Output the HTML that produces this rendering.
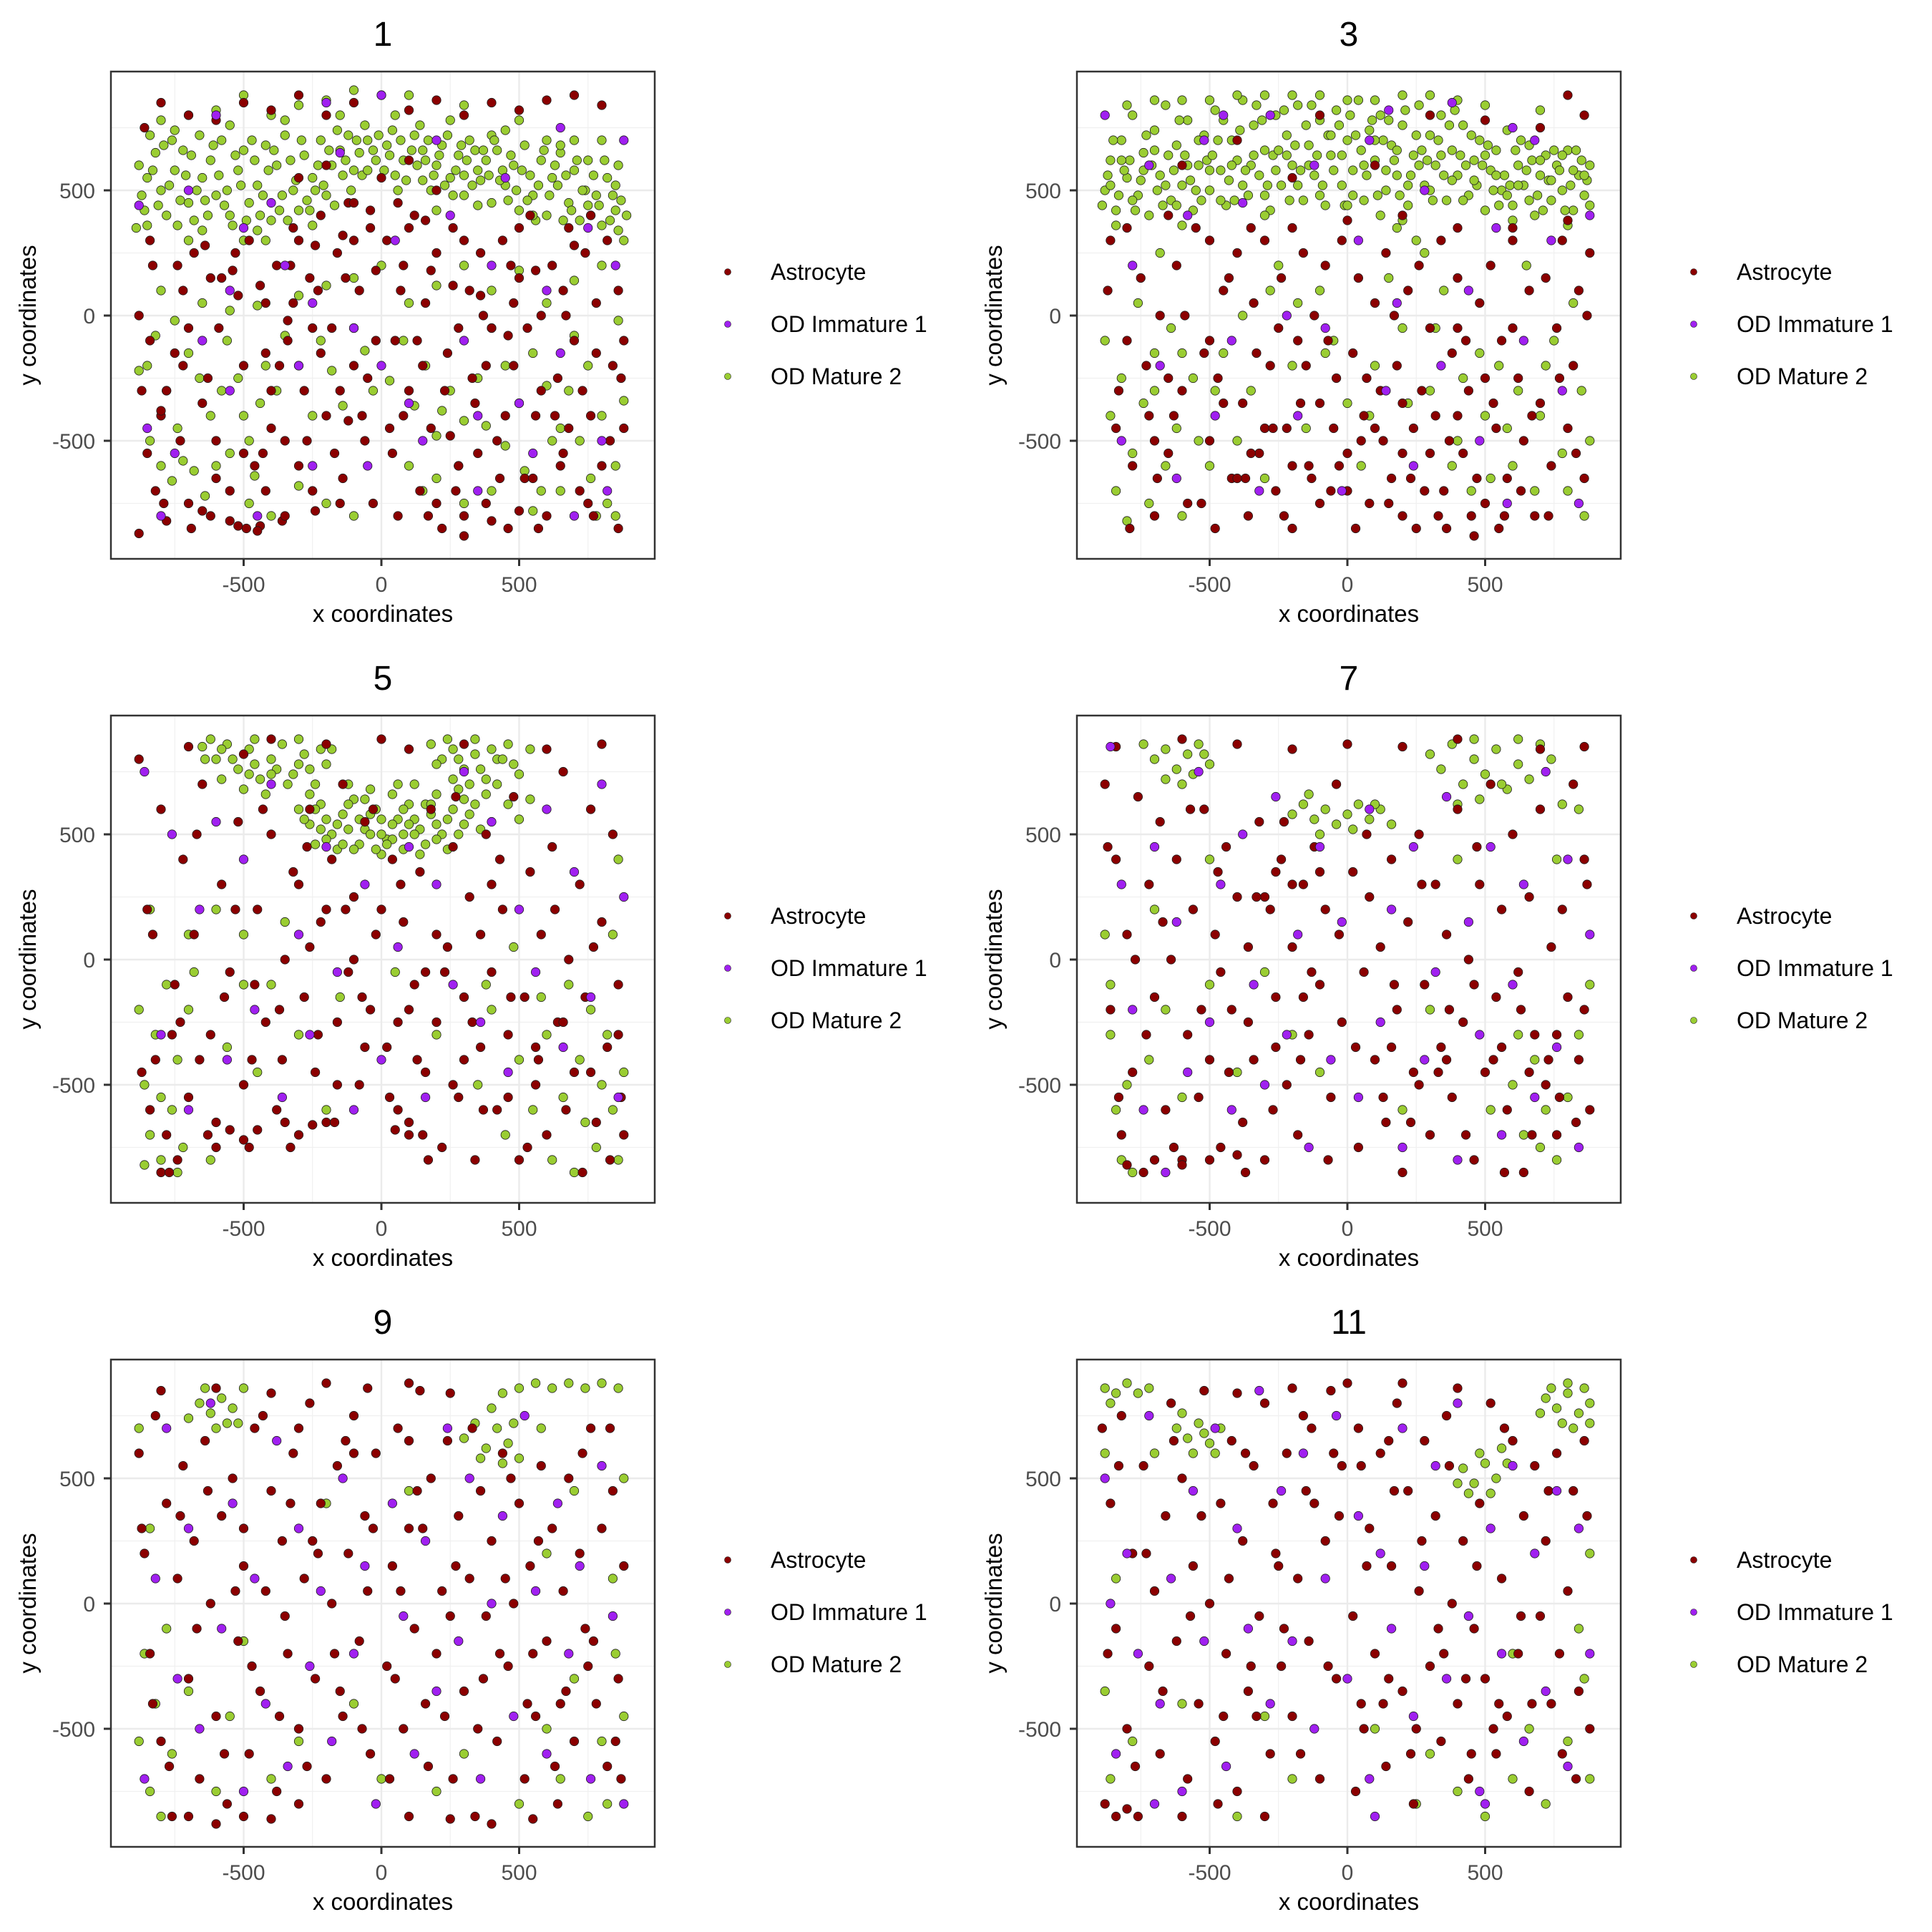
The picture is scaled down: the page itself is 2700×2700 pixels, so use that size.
<!DOCTYPE html>
<html><head><meta charset="utf-8"><style>
html,body{margin:0;padding:0;background:#fff}
svg{display:block}
text{font-family:"Liberation Sans",Arial,sans-serif}
</style></head><body>
<svg id="chart" width="2700" height="2700" viewBox="0 0 2700 2700" xmlns="http://www.w3.org/2000/svg"></svg>
<script>
// Facet titles
const facetTitles = ["1","3","5","7","9","11"];
const cellTypes = ["Astrocyte","OD Immature 1","OD Mature 2"];
const xTicks = [-500,0,500];
const yTicks = [-500,0,500];
const xTickLabels = ["-500","0","500"];
const yTickLabels = ["-500","0","500"];
// points per facet, "x,y" in units of 10 coordinate units
const greenPts = [
"-88,60 -85,55 -82,65 -80,50 -78,40 -75,58 -72,66 -70,45 -68,38 -65,55 -62,62 -60,48 -58,70 -55,40 -52,58 -50,66 -48,45 -45,52 -42,68 -40,38 -38,60 -35,72 -32,50 -30,42 -28,64 -25,55 -22,70 -20,48 -18,60 -15,66 -12,72 -10,58 -8,65 -5,70 -2,62 2,68 5,56 8,62 12,72 15,66 18,50 20,60 22,68 25,55 28,64 30,48 32,70 35,58 38,62 40,45 42,66 45,52 48,60 50,42 52,68 55,48 58,62 60,40 62,55 65,65 68,45 70,58 72,38 75,62 78,48 80,36 82,55 85,42 88,30 86,60 -86,42 -84,72 -76,70 -66,72 -56,50 -46,62 -36,48 -26,42 -16,74 -6,76 4,74 14,76 24,72 34,66 44,58 54,56 64,52 74,50 84,48 -89,35 -74,36 -64,46 -54,36 -44,40 -34,38 -24,50 -14,56 6,50 16,62 26,48 36,54 46,46 56,38 66,38 76,40 86,34 -80,78 -60,82 -40,80 -30,84 -20,86 -70,30 -50,30 -42,30 20,42 30,56 40,72 50,78 60,70 70,70 80,70 -88,-22 -84,-50 -80,-60 -76,-66 -72,-58 -68,-62 -64,-72 -60,-60 -58,-30 -55,-55 -50,-40 -46,-64 -42,-20 -38,-30 -35,-8 -30,-20 -25,-40 -22,-10 -18,-22 -14,-36 -10,-5 -6,-14 -3,-30 3,-26 8,-10 12,-36 16,-20 20,-48 25,-30 30,-42 35,-25 40,-5 45,-20 50,-35 55,-15 60,-28 65,-45 70,-8 75,-20 80,-40 85,-60 88,-34 82,-75 76,-65 72,-50 68,-30 62,-50 58,-70 52,-62 45,-52 38,-44 28,-60 22,-38 -85,-20 -82,-8 -78,-30 -74,-45 -70,-15 -66,-25 -62,-40 -56,-10 -52,-25 -48,-50 -44,-35 -80,10 -75,-2 -65,5 -55,2 -45,4 -30,8 -20,12 -10,15 0,20 10,5 20,12 30,20 40,10 50,18 60,5 70,14 80,20 86,-2 -48,-75 -40,-80 -30,-68 -20,-75 -10,-80 10,-60 15,-70 20,-65 30,-75 40,-70 55,-78 65,-70 78,-80 85,-80 -87,48 -83,58 -81,44 -79,68 -77,52 -73,46 -71,56 -69,64 -67,50 -63,40 -61,68 -59,56 -57,44 -53,64 -51,52 -49,38 -47,70 -43,48 -41,58 -39,66 -37,42 -33,62 -31,54 -29,70 -27,46 -23,60 -21,52 -19,66 -17,44 -13,62 -11,50 -9,70 -7,56 -3,66 -1,72 1,58 3,64 7,70 9,54 11,66 13,60 17,70 19,56 21,64 23,52 27,58 29,68 31,62 33,52 37,66 39,56 41,70 43,54 47,64 49,50 51,58 53,46 57,52 59,66 61,48 63,60 67,56 69,42 71,62 73,50 77,56 79,44 81,62 83,38 87,46 89,40 -85,36 -65,34 -45,34 -25,36 -5,58 15,54 35,44 55,40 75,44 85,52 -75,74 -55,76 -35,78 -15,80 5,80 25,78 45,74 65,68 -70,80 -50,88 -10,90 10,88 30,84",
"-88,50 -86,62 -84,42 -82,70 -80,55 -78,80 -76,48 -74,65 -72,40 -70,74 -68,56 -66,84 -64,46 -62,68 -60,52 -58,78 -56,42 -54,60 -52,72 -50,50 -48,82 -46,58 -44,44 -42,70 -40,62 -38,86 -36,48 -34,76 -32,56 -30,66 -28,42 -26,80 -24,52 -22,72 -20,60 -18,84 -16,46 -14,68 -12,56 -10,78 -8,44 -6,64 -4,82 -2,52 0,70 2,58 4,86 6,46 8,74 10,62 12,80 14,50 16,68 18,56 20,76 22,44 24,64 26,84 28,52 30,72 32,60 34,80 36,46 38,66 40,56 42,76 44,48 46,62 48,70 50,42 52,58 54,66 56,50 58,74 60,44 62,60 64,52 66,68 68,40 70,56 72,64 74,46 76,60 78,50 80,66 82,42 84,56 86,48 88,60 -87,56 -83,48 -79,62 -75,54 -71,60 -67,44 -63,58 -59,64 -55,50 -51,62 -47,70 -43,54 -39,74 -35,60 -31,78 -27,64 -23,82 -19,68 -15,76 -11,64 -7,72 -3,76 1,80 5,66 9,78 13,70 17,62 21,82 25,72 29,62 33,70 37,76 41,64 45,72 49,60 53,50 57,56 61,66 65,58 69,48 73,54 77,58 81,52 85,62 -60,86 -40,88 -20,88 0,86 20,88 40,86 -88,-10 -86,-40 -84,-70 -82,-25 -80,-82 -78,-55 -76,5 -74,-35 -72,-75 -70,-15 -68,25 -66,-60 -64,-5 -62,-45 -60,-80 -56,-25 -50,-60 -45,-15 -40,-50 -35,-30 -30,-65 -25,20 -20,-20 -15,-45 -10,10 -5,-10 0,-35 5,-60 10,-20 15,15 20,-5 25,30 30,-30 35,10 40,-50 45,-70 50,-40 55,-20 60,-60 65,20 70,-40 75,-10 80,-70 85,-30 88,-50 -70,-30 -60,-15 -54,-50 -48,-30 -38,0 -28,10 -18,5 -8,-15 12,40 22,-35 32,-5 42,-25 52,-65 62,-30 72,-20 82,5 86,-80 78,-55 68,-70 58,-45 48,-15 38,-60 28,25 18,35 8,-40 -89,44 -85,70 -81,58 -77,42 -73,72 -69,50 -65,64 -61,78 -57,54 -53,46 -49,64 -45,78 -41,46 -37,58 -33,84 -29,52 -25,66 -21,46 -17,58 -13,84 -9,52 -5,58 -1,44 3,72 7,56 11,48 15,78 19,48 23,56 27,66 31,46 35,56 39,82 43,60 47,52 51,68 55,44 59,52 63,70 67,62 71,42 75,66 79,42 83,66 87,54 -86,52 -82,62 -78,46 -74,58 -70,66 -66,52 -62,44 -58,60 -54,70 -50,58 -46,46 -42,60 -38,52 -34,64 -30,48 -26,58 -22,64 -18,52 -14,60 -10,48 -6,72 -2,64 2,48 6,60 10,70 14,58 18,66 22,52 26,60 30,50 34,64 38,54 42,46 46,54 50,64 54,56 58,48 62,52 66,46 70,62 74,54 78,64 82,58 86,56 88,44 -80,84 -70,86 -50,86 -30,88 -10,88 10,86 30,88 50,84 70,82 -84,36 -60,36 -30,40 0,44 20,38 60,38 80,36",
"-65,85 -60,80 -56,86 -52,76 -48,84 -44,72 -40,80 -36,86 -32,74 -28,82 -24,70 -20,78 -58,72 -50,68 -42,66 -34,70 -26,76 -18,84 -62,88 -46,88 -30,88 -30,60 -26,54 -22,62 -18,50 -14,58 -10,64 -6,52 -2,60 2,48 6,56 10,62 14,52 18,58 22,50 26,60 30,54 34,62 -24,46 -16,44 -8,46 0,42 8,44 16,46 24,44 -12,70 -4,68 4,66 12,70 20,66 28,68 -20,56 -12,52 -4,58 4,54 12,56 20,54 8,50 0,50 18,86 22,80 26,84 30,76 34,82 38,72 42,80 46,86 50,74 54,84 26,72 34,88 42,70 46,62 50,56 54,64 -88,-20 -86,-50 -84,-70 -82,-30 -80,-80 -78,-10 -76,-60 -74,-40 -72,-75 -70,-20 -68,-5 -86,-82 -80,-55 -74,-85 -62,-80 -56,-35 -50,-10 -45,-45 -30,-30 -20,-60 -15,-15 5,-5 20,-30 35,-50 40,-20 45,-70 50,-40 55,-60 60,-30 62,-80 66,-55 70,-85 72,-40 74,-65 76,-20 78,-75 80,-50 82,-30 84,-60 86,-80 88,-45 68,-10 58,-15 48,5 38,-10 -60,20 -50,10 -40,-10 -35,15 -70,10 -84,20 86,40 84,10 -28,56 -24,60 -20,48 -16,54 -12,62 -8,56 -4,50 0,56 4,48 8,60 12,50 16,62 20,48 24,56 28,50 32,58 36,52 -10,44 2,46 14,42 -26,66 -6,64 6,70 18,62 30,64 -22,52 10,54 -64,80 -58,84 -54,80 -46,78 -38,76 -30,78 -22,84 -48,74 -40,74 20,78 24,88 28,80 36,76 40,84 44,80 48,78 32,70 38,66 -14,46 -2,44",
"-74,86 -70,80 -66,84 -62,76 -58,82 -54,86 -50,78 -66,72 -60,70 -56,74 -52,82 -20,58 -16,62 -12,56 -8,60 -4,54 0,58 4,62 8,56 12,60 16,54 -10,50 2,52 10,62 -14,66 30,82 34,76 38,86 42,70 46,80 50,74 54,84 58,68 62,78 66,72 70,86 74,80 40,62 48,64 56,70 62,88 46,88 78,62 -88,10 -86,-30 -84,-60 -82,-80 -86,-10 -80,-50 -78,-85 -72,-40 -66,-20 -60,-55 -50,-10 -40,-45 -30,-5 -20,-30 -10,-45 60,-50 64,-70 68,-40 72,-60 76,-80 80,-55 84,-30 88,-10 70,-75 62,-30 52,-60 76,40 84,60 30,-20 20,-60 40,40 -50,40 -70,20",
"-66,80 -62,76 -58,82 -54,78 -60,70 -56,72 -50,86 -64,86 -52,72 -70,74 30,66 34,72 38,62 42,70 46,64 50,58 40,78 44,84 50,86 56,88 62,86 68,88 74,86 80,88 86,86 48,72 36,58 44,56 58,70 -88,-55 -86,-20 -84,-75 -82,-40 -80,-85 -78,-10 -76,-60 -70,-35 -60,-75 -55,-45 -50,-15 -40,-70 60,-50 65,-70 70,-30 75,-85 80,-55 85,-20 88,-45 82,-80 50,-80 30,-60 20,-75 -30,-55 -10,-40 0,-70 88,50 84,10 -84,30 -88,70 -20,40 10,45 60,20 70,45",
"-88,86 -84,84 -80,88 -76,84 -72,86 -86,80 -62,70 -58,66 -54,72 -50,64 -56,60 -48,60 -60,76 -52,68 -46,70 72,82 76,78 80,84 84,76 88,80 86,86 78,72 82,70 88,72 74,86 80,88 70,76 42,54 46,48 50,56 54,50 44,44 52,44 58,56 48,60 56,62 40,48 -88,-35 -86,-70 -84,10 -78,-55 -60,-40 -40,-85 -20,-70 25,-80 30,-60 40,-75 50,-85 60,-70 66,-50 72,-80 80,-55 86,-30 88,-70 84,-10 88,20 -30,-45 10,-50 60,-20 -70,60 -88,60"
];
const redPts = [
"-88,-87 -85,-55 -82,-70 -80,-40 -78,-30 -75,-15 -72,10 -70,-5 -68,25 -65,-35 -62,-80 -60,-50 -58,15 -55,-70 -52,-84 -50,-20 -48,30 -46,-60 -44,-84 -42,5 -40,-45 -38,20 -36,-82 -34,-10 -32,35 -30,-60 -28,-30 -26,15 -24,-78 -22,40 -20,-40 -18,-5 -16,25 -14,-65 -12,45 -10,-20 -8,10 -6,-50 -4,35 -2,-10 2,30 4,-55 6,-80 8,20 10,-30 12,40 14,-70 16,5 18,-45 20,25 22,-85 24,-15 26,35 28,-60 30,-88 32,10 34,-35 36,25 38,-75 40,-5 42,-50 44,30 46,-85 48,-20 50,15 52,-65 54,40 56,-40 58,0 60,-80 62,20 64,-25 66,-55 68,35 70,-10 72,-70 74,25 76,-40 78,5 80,-60 82,30 84,-20 86,-85 88,-10 -86,75 -80,85 -70,80 -60,78 -50,85 -40,82 -30,88 -20,80 -10,85 0,88 10,82 20,86 30,80 40,85 50,82 60,86 70,88 80,84 -84,30 -74,20 -64,28 -54,18 -44,12 -34,-2 -24,28 -14,32 -4,42 6,45 16,38 26,12 36,8 46,-8 56,18 66,10 76,40 86,10 -40,-30 -35,-50 -25,-5 -15,-30 -5,-25 5,-10 15,-20 25,-48 35,-55 45,-40 55,-65 65,-60 75,-75 -65,-78 -55,-82 -45,-86 -35,-80 -25,-70 -15,-75 20,-75 30,-80 40,-82 50,-78 -30,55 -20,60 -10,45 0,55 10,62 20,50 -78,-82 -70,-75 -60,-65 -50,-55 -42,-70 -88,0 -84,-10 -80,-38 -72,-20 -62,15 -52,8 -42,-15 -32,5 -22,-15 -12,-42 -2,18 8,-40 18,18 28,-5 38,-20 48,5 58,-30 68,-45 78,-15 88,-45 -87,-30 -83,20 -79,-75 -73,-50 -69,-85 -63,-25 -59,-5 -53,25 -49,-85 -43,-55 -37,-20 -33,20 -27,-50 -23,10 -17,-55 -13,15 -7,-40 -3,-75 3,-45 7,10 13,-10 17,-80 23,-30 27,-70 33,-25 37,0 43,-65 47,20 53,-5 57,-85 63,-40 67,0 73,-30 77,-80 83,-50 87,-25 -30,30 -10,30 10,35 30,30 50,35 70,28",
"-86,30 -84,-45 -80,-10 -78,-60 -75,15 -72,-40 -70,-80 -68,0 -65,-55 -62,20 -60,-30 -58,-75 -55,35 -52,-15 -50,-50 -48,-85 -45,10 -42,-65 -40,25 -38,-35 -36,-80 -34,5 -32,-55 -30,30 -28,-20 -26,-70 -24,15 -22,-45 -20,-85 -18,-10 -16,25 -14,-60 -12,0 -10,-35 -8,20 -6,-70 -4,-25 -2,30 0,-55 2,-15 4,15 6,-40 8,-75 10,5 12,-30 14,25 16,-65 18,-20 20,-80 22,10 24,-45 26,20 28,-70 30,-5 32,-40 34,30 36,-85 38,-15 40,15 42,-55 44,-30 46,-88 48,5 50,-75 52,20 54,-45 56,-10 58,-65 60,30 62,-25 64,-50 66,10 68,-80 70,-35 72,15 74,-60 76,-5 78,30 80,-45 82,-20 84,10 86,-65 88,25 -60,60 -40,70 -20,55 -10,80 10,60 30,80 50,78 70,75 80,88 86,80 -30,-45 -20,-60 -10,-75 5,-50 15,-75 25,-85 35,-70 45,-80 55,-85 -70,-50 -65,-25 -50,-10 -45,-35 -35,-55 -25,-5 -15,-20 -5,-45 10,-45 20,-35 30,-55 40,-5 50,-25 60,-5 -80,35 -65,40 -50,30 -35,35 -20,35 0,38 20,40 40,35 60,35 80,38 -87,10 -83,-30 -79,-85 -73,-20 -69,-65 -63,-40 -59,0 -53,-75 -47,-25 -43,15 -37,-65 -33,-15 -27,-45 -23,-80 -17,-35 -13,-65 -7,-10 -3,-60 3,-85 7,-25 13,-50 17,0 23,-65 27,-30 33,-80 37,-50 43,-10 47,-65 53,-35 57,-80 63,-70 67,-40 73,-80 77,-25 83,-55 87,0 -40,-65 0,-70 20,-55 40,-40",
"-88,80 -85,20 -82,-40 -80,60 -78,-70 -75,-10 -72,40 -70,-55 -68,10 -65,70 -62,-30 -60,-65 -58,30 -55,-5 -52,55 -50,-50 -48,-75 -45,20 -42,-25 -40,50 -38,-60 -35,0 -32,35 -30,-70 -28,-15 -26,60 -24,-45 -22,15 -20,-65 -18,40 -16,-25 -14,70 -12,-5 -10,25 -8,-50 -6,55 -4,-20 -2,10 2,-35 4,40 6,-60 8,15 10,-70 12,-10 14,35 16,-45 18,60 20,-25 22,-75 24,5 26,45 28,-55 30,-15 32,25 34,-80 36,-35 38,50 40,-5 42,-60 44,20 46,-30 48,65 50,-80 52,-15 54,35 56,-50 58,10 60,-70 62,45 64,-25 66,75 68,0 70,-45 72,30 74,-15 76,60 78,-65 80,15 82,-35 84,50 86,-10 88,-70 -70,85 -50,82 -40,88 -20,86 0,88 10,84 30,86 60,84 80,86 -60,-75 -55,-68 -50,-72 -45,-68 -35,-65 -25,-66 5,-68 10,-65 15,-70 -30,30 -20,20 -10,0 0,20 10,-20 20,10 30,-40 40,30 -76,-30 -66,-40 -46,-10 -36,-40 -26,5 -16,-50 -6,-35 6,-25 16,-5 26,-50 36,10 46,-55 56,-35 66,-25 76,-45 86,-30 -80,-85 -74,-80 -84,-60 -87,-45 -83,10 -77,-85 -73,-25 -67,50 -63,-70 -57,-15 -53,20 -47,-40 -43,60 -37,-20 -33,-75 -27,45 -23,-30 -17,-65 -13,20 -7,-15 -3,60 3,-55 7,30 13,-40 17,-80 23,-5 27,65 33,-25 37,-60 43,40 47,-15 53,-75 57,-40 63,20 67,-60 73,-85 77,5 83,-80 87,-55",
"-88,70 -86,-20 -84,40 -82,-70 -80,10 -78,-45 -76,65 -74,-85 -72,30 -70,-15 -68,55 -66,-60 -64,0 -62,40 -60,-80 -58,-30 -56,20 -54,-55 -52,60 -50,-40 -48,10 -46,-75 -44,45 -42,-20 -40,25 -38,-65 -36,5 -34,-40 -32,55 -30,-80 -28,20 -26,-15 -24,40 -22,-50 -20,5 -18,-70 -16,30 -14,-30 -12,45 -10,-10 -8,20 -6,-55 -4,70 -2,-25 2,35 4,-75 6,-5 8,25 10,-40 12,5 14,-65 16,40 18,-20 20,-85 22,15 24,-45 26,50 28,-10 30,-70 32,30 34,-35 36,10 38,-55 40,60 42,-25 44,0 46,-80 48,30 50,-45 52,70 54,-15 56,20 58,-60 60,50 62,-5 64,-85 66,25 68,-30 70,60 72,-50 74,5 76,-70 78,20 80,-15 82,70 84,-40 86,40 88,-60 -80,-82 -70,-80 -60,-82 -50,-80 -40,-78 -84,85 -60,88 -40,86 -20,84 0,86 20,85 40,88 70,84 86,85 -30,25 -26,35 -20,30 -10,35 -46,-5 -36,-25 -26,-35 -16,-15 16,-35 26,-50 36,-40 46,-10 56,-35 66,-45 76,-30 86,-20 -87,45 -83,-55 -77,0 -73,-30 -67,15 -63,-75 -57,60 -53,-20 -47,35 -43,-45 -37,-85 -33,25 -27,-60 -23,55 -17,-40 -13,-5 -7,-80 -3,10 3,-35 7,50 13,-55 17,-10 23,-65 27,30 33,-45 37,-20 43,-70 47,45 53,-40 57,-85 63,-20 67,-70 73,-40 77,-55 83,-65 87,30",
"-88,60 -86,20 -84,-20 -82,75 -80,-55 -78,40 -76,-85 -74,10 -72,55 -70,-30 -68,25 -66,-70 -64,65 -62,0 -60,-45 -58,35 -56,-80 -54,50 -52,-15 -50,15 -48,-60 -46,70 -44,-35 -42,5 -40,45 -38,-75 -36,25 -34,-20 -32,60 -30,-50 -28,10 -26,80 -24,-30 -22,40 -20,-70 -18,0 -16,55 -14,-45 -12,20 -10,75 -8,-15 -6,35 -4,-60 -2,60 2,-25 4,15 6,70 8,-50 10,30 12,-10 14,85 16,-40 18,50 20,-20 22,5 24,65 26,-70 28,35 30,-35 32,10 34,-85 36,45 38,-5 40,25 42,-55 44,60 46,-25 48,0 50,40 52,-70 54,15 56,-45 58,55 60,-15 62,30 64,-80 66,5 68,50 70,-55 72,20 74,-10 76,70 78,-40 80,30 82,-65 84,45 86,-30 88,15 -70,-85 -60,-88 -50,-85 -40,-86 -30,-80 10,-85 25,-86 40,-88 55,-86 -80,85 -60,86 -40,84 -20,88 -5,86 10,88 25,84 -30,70 -10,60 10,65 -50,30 -35,-5 -25,25 -15,-35 -5,5 5,-30 15,30 25,-5 35,-50 45,10 55,-20 65,-40 75,-25 85,-55 -87,30 -83,-40 -77,-65 -73,35 -67,-10 -63,45 -57,-60 -53,5 -47,-25 -43,75 -37,-45 -33,40 -27,-65 -23,20 -17,-20 -13,65 -7,-50 -3,30 3,-70 7,5 13,45 17,-65 23,-45 27,15 33,70 37,-30 43,-20 47,50 53,-40 57,25 63,-65 67,-35 73,60 77,-15 83,70 87,-70",
"-88,-80 -86,40 -84,-10 -82,75 -80,-50 -78,20 -76,-85 -74,55 -72,-25 -70,5 -68,-60 -66,35 -64,80 -62,-15 -60,50 -58,-70 -56,15 -54,-40 -52,85 -50,0 -48,-55 -46,40 -44,-20 -42,65 -40,-75 -38,25 -36,-35 -34,55 -32,-5 -30,80 -28,-60 -26,20 -24,-25 -22,60 -20,-45 -18,10 -16,75 -14,-15 -12,40 -10,-70 -8,25 -6,85 -4,-30 -2,55 2,-5 4,70 6,-50 8,30 10,-20 12,60 14,-65 16,15 18,80 20,-35 22,45 24,-80 26,5 28,65 30,-25 32,35 34,-55 36,75 38,0 40,-40 42,25 44,-70 46,-10 48,40 50,-30 52,80 54,-60 56,10 58,-45 60,65 62,-20 64,35 66,-75 68,55 70,-5 72,25 74,-40 76,60 78,-60 80,5 82,45 84,-35 86,65 88,-50 -84,-85 -80,-82 -60,-85 -30,-85 -89,70 20,88 40,86 0,88 -20,86 -40,84 -5,60 5,55 15,65 -15,45 -25,15 -35,-25 -45,-45 5,-40 15,-30 25,-50 35,-20 45,-60 55,-40 -87,-20 -83,55 -77,-65 -73,20 -67,-35 -63,65 -57,-5 -53,35 -47,-80 -43,10 -37,60 -33,-45 -27,40 -23,-10 -17,-60 -13,70 -7,-25 -3,35 3,-75 7,15 13,-40 17,45 23,-60 27,25 33,-10 37,55 43,-30 47,15 53,-50 57,70 63,-5 67,-40 73,45 77,-20 83,-70 87,35"
];
const purplePts = [
"-88,44 -80,-80 -75,-55 -70,50 -65,-10 -60,80 -55,10 -50,35 -45,-80 -40,45 -35,20 -30,-20 -25,-60 -20,85 -15,65 -10,-5 -5,-60 0,88 5,30 10,-35 15,-50 20,70 25,40 30,-10 35,-70 40,20 45,55 50,-35 55,-55 60,10 65,75 70,-80 75,35 80,-50 85,20 88,70 -85,-45 -55,-30 -25,5 0,-20 35,-40 65,-15 82,-70",
"-88,80 -82,-50 -78,20 -72,60 -68,-20 -62,-65 -58,40 -52,70 -48,-40 -42,-10 -38,45 -32,-70 -28,80 -22,0 -18,-40 -12,60 -8,-5 -2,-70 4,30 8,70 14,-30 18,5 24,-60 28,50 34,-20 38,85 44,10 48,-50 54,35 58,-75 64,-10 68,70 74,30 78,-30 84,-75 88,40 -45,80 15,82 60,75",
"-86,75 -80,-30 -76,50 -70,-60 -66,20 -60,55 -56,-40 -50,40 -46,-20 -40,70 -36,-55 -30,10 -26,-30 -20,45 -16,-5 -10,-60 -6,30 0,-40 6,5 10,45 16,-55 20,30 26,-10 30,75 36,-25 40,55 46,-45 50,20 56,-5 60,60 66,-35 70,35 76,-15 80,70 86,-55 88,25",
"-86,85 -82,30 -78,-20 -74,-60 -70,45 -66,-85 -62,15 -58,-45 -54,75 -50,-25 -46,30 -42,-60 -38,50 -34,-10 -30,-50 -26,65 -22,-30 -18,10 -14,-75 -10,45 -6,-40 -2,15 4,-55 8,60 12,-25 16,20 20,-75 24,45 28,-40 32,-5 36,65 40,-80 44,15 48,-30 52,45 56,-70 60,-10 64,30 68,-55 72,75 76,-35 80,40 84,-75 88,10",
"-86,-70 -82,10 -78,70 -74,-30 -70,30 -66,-50 -62,80 -58,-10 -54,40 -50,-75 -46,10 -42,-40 -38,65 -34,-65 -30,30 -26,-25 -22,5 -18,-55 -14,50 -10,-20 -6,15 -2,-80 4,40 8,-5 12,-60 16,25 20,-35 24,70 28,-15 32,50 36,-70 40,0 44,35 48,-45 52,75 56,5 60,-60 64,40 68,-20 72,15 76,-70 80,55 84,-5 88,-80",
"-88,50 -84,-60 -80,20 -76,-20 -72,75 -68,-40 -64,10 -60,-75 -56,45 -52,-15 -48,70 -44,-65 -40,30 -36,-10 -32,85 -28,-40 -24,45 -20,-15 -16,60 -12,-50 -8,10 -4,75 0,-30 4,35 8,-70 12,20 16,-10 20,70 24,-45 28,15 32,55 36,-30 40,80 44,-5 48,-75 52,30 56,-20 60,55 64,-55 68,20 72,-35 76,45 80,-65 84,30 88,-20 -86,0 -70,-80 10,-85 50,-80"
];

const NS = "http://www.w3.org/2000/svg";
const svg = document.getElementById('chart');
const colors = ["#8B0000","#A020F0","#9ACD32"];
const CW = 1350, RH = 900, PL = 155, PT = 100, PW = 760, PH = 681;
function mk(tag, attrs, parent){const e=document.createElementNS(NS,tag);for(const k in attrs)e.setAttribute(k,attrs[k]);(parent||svg).appendChild(e);return e;}
function xScale(ox, v){return ox + PL + 378 + v*0.385;}
function yScale(oy, v){return oy + PT + 341 - v*0.35;}
function parse(s){return s.trim().split(/\s+/).map(p=>{const a=p.split(',');return [(+a[0])*10,(+a[1])*10];});}

facetTitles.forEach((t,i)=>{
  const ox = (i%2)*CW, oy = Math.floor(i/2)*RH;
  const g = mk('g',{});
  
  
  const bg = mk('rect',{x:ox+PL,y:oy+PT,width:PW,height:PH,fill:'#fff'},g);
  
  
  [-750,-250,250,750].forEach(v=>{
    const l1=mk('line',{x1:xScale(ox,v),x2:xScale(ox,v),y1:oy+PT,y2:oy+PT+PH,stroke:'#f0f0f0','stroke-width':1.2},g);
    
    
    const l2=mk('line',{y1:yScale(oy,v),y2:yScale(oy,v),x1:ox+PL,x2:ox+PL+PW,stroke:'#f0f0f0','stroke-width':1.2},g);
    
    
  });
  xTicks.forEach((v,k)=>{
    const l=mk('line',{x1:xScale(ox,v),x2:xScale(ox,v),y1:oy+PT,y2:oy+PT+PH,stroke:'#ebebeb','stroke-width':2.4},g);
    
    
    const tk=mk('line',{x1:xScale(ox,v),x2:xScale(ox,v),y1:oy+PT+PH,y2:oy+PT+PH+10,stroke:'#333','stroke-width':3},g);
    
    
    const tx=mk('text',{x:xScale(ox,v),y:oy+PT+PH+46,'text-anchor':'middle','font-size':30,fill:'#4d4d4d'},g);
    tx.textContent=xTickLabels[k];
    
    
  });
  yTicks.forEach((v,k)=>{
    const l=mk('line',{y1:yScale(oy,v),y2:yScale(oy,v),x1:ox+PL,x2:ox+PL+PW,stroke:'#ebebeb','stroke-width':2.4},g);
    
    
    const tk=mk('line',{y1:yScale(oy,v),y2:yScale(oy,v),x1:ox+PL-10,x2:ox+PL,stroke:'#333','stroke-width':3},g);
    
    
    const tx=mk('text',{x:ox+PL-22,y:yScale(oy,v)+11,'text-anchor':'end','font-size':30,fill:'#4d4d4d'},g);
    tx.textContent=yTickLabels[k];
    
    
  });
  const series=[[greenPts[i],2],[redPts[i],0],[purplePts[i],1]];
  series.forEach(([s,ci])=>{
    parse(s).forEach(([x,y])=>{
      const c=mk('circle',{cx:xScale(ox,x),cy:yScale(oy,y),r:6.2,fill:colors[ci],stroke:'#1a1a1a','stroke-width':0.8},g);
      
      
    });
  });
  const border=mk('rect',{x:ox+PL,y:oy+PT,width:PW,height:PH,fill:'none',stroke:'#333','stroke-width':2.5},g);
  
  
  const title=mk('text',{x:ox+PL+PW/2,y:oy+64,'text-anchor':'middle','font-size':48,fill:'#000'},g);
  title.textContent=t;
  
  
  const xt=mk('text',{x:ox+PL+PW/2,y:oy+869,'text-anchor':'middle','font-size':33,fill:'#000'},g);
  xt.textContent='x coordinates';
  
  
  const yt=mk('text',{x:0,y:0,'text-anchor':'middle','font-size':33,fill:'#000',transform:'translate('+(ox+50)+','+(oy+PT+PH/2)+') rotate(-90)'},g);
  yt.textContent='y coordinates';
  
  
  cellTypes.forEach((ct,k)=>{
    const lg=mk('g',{},g);
    
    
    const d=mk('circle',{cx:ox+1017,cy:oy+380+k*73,r:4.5,fill:colors[k],stroke:'#1a1a1a','stroke-width':0.6},lg);
    
    
    const lt=mk('text',{x:ox+1077,y:oy+391+k*73,'font-size':32,fill:'#000'},lg);
    lt.textContent=ct;
    
    
  });
});
</script>
</body></html>
